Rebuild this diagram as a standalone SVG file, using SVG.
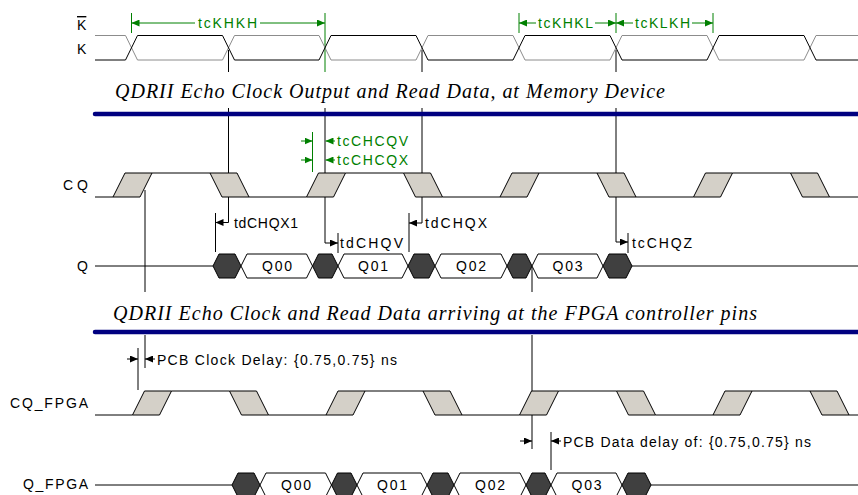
<svg xmlns="http://www.w3.org/2000/svg" width="858" height="495" viewBox="0 0 858 495">
<style>
.lbl{font-family:"Liberation Sans",Arial,sans-serif;font-size:14px;fill:#000}
.grn{font-family:"Liberation Sans",Arial,sans-serif;font-size:14px;fill:#008000}
.ttl{font-family:"Liberation Serif","Times New Roman",serif;font-style:italic;font-size:20px;fill:#000}
.sig{fill:none;stroke:#000;stroke-width:1}
.sigg{fill:none;stroke:#8c8c8c;stroke-width:1}
.edge{fill:#d4d0c8;stroke:#000;stroke-width:1}
.dk{fill:#404040;stroke:#000;stroke-width:1}
.wt{fill:#fff;stroke:#000;stroke-width:1}
.bl{stroke:#000080;stroke-width:4.5;stroke-linecap:round}
.ln{stroke:#000;stroke-width:1;fill:none}
.gl{stroke:#008000;stroke-width:1;fill:none}
.ar{stroke:#000;stroke-width:1;marker-end:url(#ah)}
.ag{stroke:#008000;stroke-width:1;marker-end:url(#ahg)}
.dt{font-family:"Liberation Sans",Arial,sans-serif;font-size:14px;fill:#000;text-anchor:middle}
</style>
<defs>
<marker id="ah" markerUnits="userSpaceOnUse" markerWidth="8" markerHeight="7" refX="8" refY="3.5" orient="auto"><path d="M0,0 L8,3.5 L0,7 z" fill="#000"/></marker>
<marker id="ahg" markerUnits="userSpaceOnUse" markerWidth="8" markerHeight="7" refX="8" refY="3.5" orient="auto"><path d="M0,0 L8,3.5 L0,7 z" fill="#008000"/></marker>
</defs>

<g id="titles">
<text class="ttl" x="115" y="98" textLength="550" lengthAdjust="spacing">QDRII Echo Clock Output and Read Data, at Memory Device</text>
<text class="ttl" x="113" y="320" textLength="644" lengthAdjust="spacing">QDRII Echo Clock and Read Data arriving at the FPGA controller pins</text>
</g>

<g id="labels">
<text class="lbl" x="77" y="30" text-decoration="overline">K</text>
<text class="lbl" x="77" y="54">K</text>
<text class="lbl" x="63" y="190" textLength="25" lengthAdjust="spacing">CQ</text>
<text class="lbl" x="77" y="271">Q</text>
<text class="lbl" x="10" y="408" textLength="78" lengthAdjust="spacing">CQ_FPGA</text>
<text class="lbl" x="23" y="489" textLength="65" lengthAdjust="spacing">Q_FPGA</text>
</g>

<g id="markers">
<line class="ln" x1="228.5" y1="50" x2="228.5" y2="72"/>
<line class="ln" x1="228.5" y1="108" x2="228.5" y2="222.5"/>
<line class="gl" x1="325" y1="13" x2="325" y2="72"/>
<line class="ln" x1="325" y1="108" x2="325" y2="243"/>
<line class="ln" x1="422" y1="50" x2="422" y2="72"/>
<line class="ln" x1="422" y1="108" x2="422" y2="223"/>
<line class="ln" x1="616" y1="50" x2="616" y2="72"/>
<line class="ln" x1="616" y1="108" x2="616" y2="242"/>
<line class="ln" x1="145" y1="190" x2="145" y2="292"/>
<line class="ln" x1="145" y1="335" x2="145" y2="368"/>
<line class="ln" x1="138" y1="348" x2="138" y2="390"/>
<line class="ln" x1="532" y1="266" x2="532" y2="292"/>
<line class="ln" x1="532" y1="335" x2="532" y2="449"/>
<line class="ln" x1="551" y1="432" x2="551" y2="470"/>
<line class="ln" x1="215.5" y1="213" x2="215.5" y2="252"/>
<line class="ln" x1="338" y1="233" x2="338" y2="253"/>
<line class="ln" x1="409" y1="213" x2="409" y2="252"/>
<line class="ln" x1="628" y1="233" x2="628" y2="253"/>
<line class="gl" x1="131.5" y1="13" x2="131.5" y2="33"/>
<line class="gl" x1="519" y1="13" x2="519" y2="33"/>
<line class="gl" x1="616" y1="13" x2="616" y2="33"/>
<line class="gl" x1="713" y1="13" x2="713" y2="33"/>
<line class="gl" x1="312.5" y1="132" x2="312.5" y2="172"/>
</g>

<g id="sep-lines">
<line class="bl" x1="95" y1="114" x2="858" y2="114"/>
<line class="bl" x1="95" y1="332" x2="858" y2="332"/>
</g>

<g id="sig-K">
<path class="sigg" d="M95,35.5 H125.5 L137.5,60 H222.5 L234.5,35.5 H319 L331,60 H416 L428,35.5 H513 L525,60 H610 L622,35.5 H707 L719,60 H804 L816,35.5 H858"/>
<path class="sig" d="M95,60 H125.5 L137.5,35.5 H222.5 L234.5,60 H319 L331,35.5 H416 L428,60 H513 L525,35.5 H610 L622,60 H707 L719,35.5 H804 L816,60 H858"/>
</g>

<g id="sig-CQ">
<path class="sig" d="M95,197 H113 M152,173 H210 M249,197 H306.5 M345.5,173 H403.5 M442.5,197 H500 M539,173 H597 M636,197 H693.5 M732.5,173 H790.5 M829.5,197 H858"/>
<polygon class="edge" points="113,197 125,173 152,173 140,197"/>
<polygon class="edge" points="210,173 237,173 249,197 222,197"/>
<polygon class="edge" points="306.5,197 318.5,173 345.5,173 333.5,197"/>
<polygon class="edge" points="403.5,173 430.5,173 442.5,197 415.5,197"/>
<polygon class="edge" points="500,197 512,173 539,173 527,197"/>
<polygon class="edge" points="597,173 624,173 636,197 609,197"/>
<polygon class="edge" points="693.5,197 705.5,173 732.5,173 720.5,197"/>
<polygon class="edge" points="790.5,173 817.5,173 829.5,197 802.5,197"/>
</g>

<g id="sig-Q">
<path class="sig" d="M95,266 H213 M632,266 H858"/>
<polygon class="dk" points="213,266 219,254 235,254 241,266 235,278 219,278"/>
<polygon class="wt" points="241,266 247,254 306.5,254 312.5,266 306.5,278 247,278"/>
<polygon class="dk" points="312.5,266 318.5,254 332,254 338,266 332,278 318.5,278"/>
<polygon class="wt" points="338,266 344,254 402,254 408,266 402,278 344,278"/>
<polygon class="dk" points="408,266 414,254 429,254 435,266 429,278 414,278"/>
<polygon class="wt" points="435,266 441,254 501,254 507,266 501,278 441,278"/>
<polygon class="dk" points="507,266 513,254 526,254 532,266 526,278 513,278"/>
<polygon class="wt" points="532,266 538,254 597,254 603,266 597,278 538,278"/>
<polygon class="dk" points="603,266 609,254 626,254 632,266 626,278 609,278"/>
<text class="dt" x="277" y="271" textLength="30" lengthAdjust="spacing">Q00</text>
<text class="dt" x="373" y="271" textLength="30" lengthAdjust="spacing">Q01</text>
<text class="dt" x="471" y="271" textLength="30" lengthAdjust="spacing">Q02</text>
<text class="dt" x="567.5" y="271" textLength="30" lengthAdjust="spacing">Q03</text>
</g>

<g id="sig-CQ_FPGA">
<path class="sig" d="M95,415 H132.5 M171.5,391 H229.5 M268.5,415 H326 M365,391 H423 M462,415 H519.5 M558.5,391 H616.5 M655.5,415 H713 M752,391 H810 M849,415 H858"/>
<polygon class="edge" points="132.5,415 144.5,391 171.5,391 159.5,415"/>
<polygon class="edge" points="229.5,391 256.5,391 268.5,415 241.5,415"/>
<polygon class="edge" points="326,415 338,391 365,391 353,415"/>
<polygon class="edge" points="423,391 450,391 462,415 435,415"/>
<polygon class="edge" points="519.5,415 531.5,391 558.5,391 546.5,415"/>
<polygon class="edge" points="616.5,391 643.5,391 655.5,415 628.5,415"/>
<polygon class="edge" points="713,415 725,391 752,391 740,415"/>
<polygon class="edge" points="810,391 837,391 849,415 822,415"/>
</g>

<g id="sig-Q_FPGA">
<path class="sig" d="M95,485 H232 M651,485 H858"/>
<polygon class="dk" points="232,485 238,473 254,473 260,485 254,497 238,497"/>
<polygon class="wt" points="260,485 266,473 325.5,473 331.5,485 325.5,497 266,497"/>
<polygon class="dk" points="331.5,485 337.5,473 351,473 357,485 351,497 337.5,497"/>
<polygon class="wt" points="357,485 363,473 421,473 427,485 421,497 363,497"/>
<polygon class="dk" points="427,485 433,473 448,473 454,485 448,497 433,497"/>
<polygon class="wt" points="454,485 460,473 520,473 526,485 520,497 460,497"/>
<polygon class="dk" points="526,485 532,473 545,473 551,485 545,497 532,497"/>
<polygon class="wt" points="551,485 557,473 616,473 622,485 616,497 557,497"/>
<polygon class="dk" points="622,485 628,473 645,473 651,485 645,497 628,497"/>
<text class="dt" x="296" y="490" textLength="30" lengthAdjust="spacing">Q00</text>
<text class="dt" x="392" y="490" textLength="30" lengthAdjust="spacing">Q01</text>
<text class="dt" x="490" y="490" textLength="30" lengthAdjust="spacing">Q02</text>
<text class="dt" x="586.5" y="490" textLength="30" lengthAdjust="spacing">Q03</text>
</g>

<g id="connectors">
<line class="ag" x1="195" y1="23" x2="131.5" y2="23"/>
<line class="ag" x1="260" y1="23" x2="325" y2="23"/>
<line class="ag" x1="536" y1="23" x2="519" y2="23"/>
<line class="ag" x1="595" y1="23" x2="616" y2="23"/>
<line class="ag" x1="633" y1="23" x2="616" y2="23"/>
<line class="ag" x1="692" y1="23" x2="713" y2="23"/>
<line class="ag" x1="301" y1="141" x2="312.5" y2="141"/>
<line class="ag" x1="301" y1="160" x2="312.5" y2="160"/>
<line class="ag" x1="335" y1="141" x2="325.5" y2="141"/>
<line class="ag" x1="335" y1="160" x2="325.5" y2="160"/>
<line class="ar" x1="228.5" y1="222.5" x2="215.5" y2="222.5"/>
<line class="ar" x1="325" y1="243" x2="338" y2="243"/>
<line class="ar" x1="422" y1="223" x2="409" y2="223"/>
<line class="ar" x1="616" y1="242" x2="628" y2="242"/>
<line class="ar" x1="127" y1="359" x2="138" y2="359"/>
<line class="ar" x1="155" y1="359" x2="145" y2="359"/>
<line class="ar" x1="520" y1="441" x2="532" y2="441"/>
<line class="ar" x1="561" y1="441" x2="551" y2="441"/>
</g>

<g id="timing-labels">
<text class="grn" x="198" y="28" textLength="59" lengthAdjust="spacing">tcKHKH</text>
<text class="grn" x="538" y="28" textLength="55" lengthAdjust="spacing">tcKHKL</text>
<text class="grn" x="635" y="28" textLength="55" lengthAdjust="spacing">tcKLKH</text>
<text class="grn" x="337" y="146" textLength="71" lengthAdjust="spacing">tcCHCQV</text>
<text class="grn" x="337" y="165" textLength="71" lengthAdjust="spacing">tcCHCQX</text>
<text class="lbl" x="234" y="228" textLength="64" lengthAdjust="spacing">tdCHQX1</text>
<text class="lbl" x="340" y="248" textLength="63" lengthAdjust="spacing">tdCHQV</text>
<text class="lbl" x="425" y="228" textLength="62" lengthAdjust="spacing">tdCHQX</text>
<text class="lbl" x="632" y="247.5" textLength="60" lengthAdjust="spacing">tcCHQZ</text>
<text class="lbl" x="157" y="364.5" textLength="240" lengthAdjust="spacing">PCB Clock Delay: {0.75,0.75} ns</text>
<text class="lbl" x="563" y="446.5" textLength="248" lengthAdjust="spacing">PCB Data delay of: {0.75,0.75} ns</text>
</g>
</svg>
